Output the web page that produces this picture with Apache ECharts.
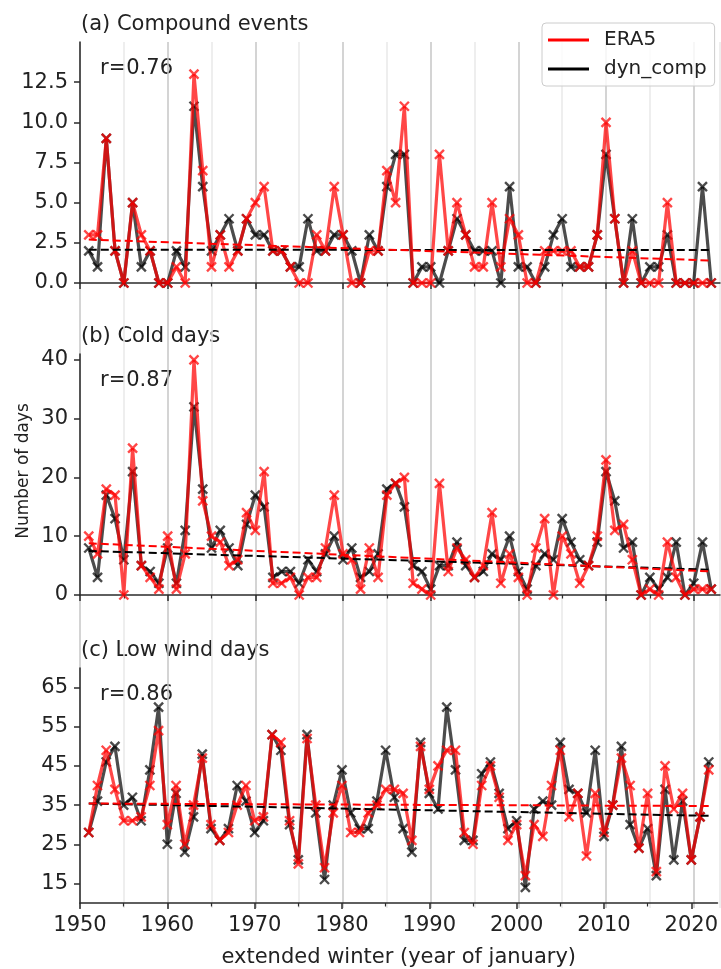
<!DOCTYPE html>
<html>
<head>
<meta charset="utf-8">
<script src="https://cdn.jsdelivr.net/npm/echarts@6/dist/echarts.min.js"></script>
<style>
  html, body { margin: 0; padding: 0; background: #ffffff; }
  #chart { width: 721px; height: 969px; }
</style>
</head>
<body>
<div id="chart"></div>
<script>
// Extended winters, labelled by the year of January
const firstYear = 1951;
const lastYear = 2022;
const years = [];
for (let y = firstYear; y <= lastYear; y++) years.push(y);

// (a) Compound events per winter
const compoundEra5 = [3,3,9,2,0,5,3,2,0,0, 1,0,13,7,1,3,1,2,4,5, 6,2,2,1,0,0,3,2,6,3, 0,0,2,2,7,5,11,0,0,0, 8,2,5,3,1,1,5,1,4,3, 0,0,2,2,2,2,1,1,3,10, 4,0,2,0,0,0,5,0,0,0, 0,0];
const compoundDyn  = [2,1,9,2,0,5,1,2,0,0, 2,1,11,6,2,3,4,2,4,3, 3,2,2,1,1,4,2,2,3,3, 2,0,3,2,6,8,8,0,1,1, 0,2,4,3,2,2,2,0,6,1, 1,0,1,3,4,1,1,1,3,8, 4,0,4,0,1,1,3,0,0,0, 6,0];
// Linear trend lines (value at first and last winter)
const compoundTrendEra5 = [2.7, 1.4];
const compoundTrendDyn  = [2.07, 2.05];

// (b) Cold days per winter
const coldEra5 = [10,7,18,17,0,25,5,3,1,10, 1,7,40,16,10,9,5,6,14,11, 21,2,2,3,0,3,3,8,17,7, 6,1,8,3,17,19,20,2,1,0, 19,4,8,6,3,5,14,2,7,3, 0,8,13,0,10,7,2,5,10,23, 11,12,6,0,1,0,9,3,0,1, 1,1];
const coldDyn  = [8,3,17,13,6,21,5,4,2,8, 2,11,32,18,8,11,8,5,12,17, 15,3,4,4,2,6,4,7,10,6, 8,3,4,7,18,19,15,5,4,1, 5,5,9,5,3,4,7,6,10,4, 1,5,7,6,13,9,6,5,9,21, 16,8,9,0,3,1,3,9,0,2, 9,1];
const coldTrendEra5 = [8.8, 4.0];
const coldTrendDyn  = [7.5, 4.3];

// (c) Low wind days per winter
const windEra5 = [28,40,49,39,31,31,32,40,54,30, 40,25,35,47,30,26,28,35,40,31, 32,53,51,31,20,52,35,19,33,40, 28,28,33,35,39,39,38,26,50,39, 45,49,49,28,25,40,45,37,26,30, 17,30,27,40,49,32,38,22,38,28, 35,47,40,24,38,18,45,34,38,21, 32,44];
const windDyn  = [28,36,46,50,35,37,31,44,60,25, 38,23,32,48,29,26,29,40,36,28, 31,53,49,30,21,53,33,16,35,44, 33,29,29,36,49,37,29,23,51,38, 34,60,44,26,26,43,46,38,29,31, 14,34,36,35,51,39,38,33,49,27, 35,50,30,24,29,17,39,21,36,21, 32,46];
const windTrendEra5 = [35.4, 34.75];
const windTrendDyn  = [35.4, 32.25];

// Panel texts and axis ticks
const panelTitles = ['(a) Compound events', '(b) Cold days', '(c) Low wind days'];
const correlations = ['r=0.76', 'r=0.87', 'r=0.86'];
const ticksA = [0, 2.5, 5, 7.5, 10, 12.5];
const ticksB = [0, 10, 20, 30, 40];
const ticksC = [15, 25, 35, 45, 55, 65];
const xTicks = [1950, 1960, 1970, 1980, 1990, 2000, 2010, 2020];

const FONT = 'DejaVu Sans';
const TEXT = '#222222';
const AXIS = '#2b2b2b';
const RED_LINE = 'rgba(255,0,0,0.72)';
const BLACK_LINE = 'rgba(0,0,0,0.7)';

const panels = [
  { era5: compoundEra5, dyn: compoundDyn, tEra5: compoundTrendEra5, tDyn: compoundTrendDyn,
    min: 0,  max: 15, ticks: ticksA, fmt: v => v.toFixed(1), top: 42,  height: 241 },
  { era5: coldEra5, dyn: coldDyn, tEra5: coldTrendEra5, tDyn: coldTrendDyn,
    min: 0,  max: 41, ticks: ticksB, fmt: v => String(v), top: 354, height: 241 },
  { era5: windEra5, dyn: windDyn, tEra5: windTrendEra5, tDyn: windTrendDyn,
    min: 10, max: 70, ticks: ticksC, fmt: v => String(v), top: 668, height: 240 }
];

const pairs = vals => vals.map((v, i) => [years[i], v]);
const trendLine = ends => [[firstYear, ends[0]], [lastYear, ends[1]]];
const xMark = 'path://M0,0L10,10M10,0L0,10';

const grids = [], xAxes = [], yAxes = [], series = [], graphics = [];

panels.forEach((p, k) => {
  grids.push({ left: 80, right: 1, top: p.top, height: p.height, containLabel: false });
  const bottomPanel = k === panels.length - 1;
  xAxes.push({
    type: 'value', gridIndex: k, min: 1950, max: 2023, interval: 10,
    axisLine: { show: true, onZero: false, lineStyle: { color: AXIS, width: 1.5 } },
    axisTick: { show: true, length: 6, customValues: xTicks, lineStyle: { color: AXIS, width: 1.5 } },
    minorTick: { show: true, splitNumber: 2, length: 3.5, lineStyle: { color: AXIS, width: 1.2 } },
    axisLabel: {
      show: bottomPanel, customValues: xTicks, margin: 12, formatter: v => String(v),
      fontSize: 21, fontFamily: FONT, color: TEXT
    },
    splitLine: { show: false },
    name: bottomPanel ? 'extended winter (year of january)' : '',
    nameLocation: 'middle', nameGap: 44,
    nameTextStyle: { fontSize: 21, fontFamily: FONT, color: TEXT }
  });
  yAxes.push({
    type: 'value', gridIndex: k, min: p.min, max: p.max,
    axisLine: { show: true, onZero: false, lineStyle: { color: AXIS, width: 1.5 } },
    axisTick: { show: true, length: 6, customValues: p.ticks, lineStyle: { color: AXIS, width: 1.5 } },
    axisLabel: {
      customValues: p.ticks, margin: 12, formatter: p.fmt,
      fontSize: 21, fontFamily: FONT, color: TEXT
    },
    splitLine: { show: false }
  });

  const common = {
    type: 'line', xAxisIndex: k, yAxisIndex: k,
    symbol: xMark, symbolSize: 9, showSymbol: true,
    emphasis: { disabled: true }, silent: true
  };
  series.push(Object.assign({}, common, {
    name: 'dyn_comp', data: pairs(p.dyn), z: 3,
    lineStyle: { color: BLACK_LINE, width: 3.2 },
    itemStyle: { color: 'none', borderColor: BLACK_LINE, borderWidth: 2.4 }
  }));
  series.push(Object.assign({}, common, {
    name: 'ERA5', data: pairs(p.era5), z: 4,
    lineStyle: { color: RED_LINE, width: 3.2 },
    itemStyle: { color: 'none', borderColor: RED_LINE, borderWidth: 2.4 }
  }));
  series.push({
    type: 'line', name: 'dyn_comp trend', xAxisIndex: k, yAxisIndex: k,
    data: trendLine(p.tDyn), showSymbol: false, symbol: 'none', z: 5, silent: true,
    lineStyle: { color: '#000000', width: 2, type: [8, 4] }
  });
  series.push({
    type: 'line', name: 'ERA5 trend', xAxisIndex: k, yAxisIndex: k,
    data: trendLine(p.tEra5), showSymbol: false, symbol: 'none', z: 6, silent: true,
    lineStyle: { color: '#ff0000', width: 2, type: [8, 4] }
  });

  graphics.push({
    type: 'text', x: 81, y: p.top - 17,
    style: { text: panelTitles[k], fontSize: 21, fontFamily: FONT, fill: TEXT, align: 'left', verticalAlign: 'middle' }
  });
  graphics.push({
    type: 'text', x: 100, y: p.top + 27,
    style: { text: correlations[k], fontSize: 21, fontFamily: FONT, fill: TEXT, align: 'left', verticalAlign: 'middle' }
  });
});

// Shared vertical grid running through all three panels
grids.push({ left: 80, right: 1, top: 42, bottom: 61 });
xAxes.push({
  type: 'value', gridIndex: 3, min: 1950, max: 2023, interval: 5,
  axisLine: { show: false }, axisTick: { show: false }, axisLabel: { show: false },
  splitLine: { show: true, lineStyle: { color: ['#c6c6c6', '#e8e8e8'], width: 1.5 } }
});
yAxes.push({
  type: 'value', gridIndex: 3, min: 0, max: 1, show: false, splitLine: { show: false }
});
series.push({ type: 'line', xAxisIndex: 3, yAxisIndex: 3, data: [], silent: true });

graphics.push({
  type: 'text', x: 24, y: 471, rotation: Math.PI / 2,
  style: { text: 'Number of days', fontSize: 17, fontFamily: FONT, fill: TEXT, align: 'center', verticalAlign: 'middle' }
});

const chart = echarts.init(document.getElementById('chart'), null, { renderer: 'canvas' });
chart.setOption({
  animation: false,
  backgroundColor: '#ffffff',
  grid: grids,
  xAxis: xAxes,
  yAxis: yAxes,
  series: series,
  graphic: graphics,
  legend: {
    orient: 'vertical', left: 542, top: 23,
    padding: [7, 8, 7, 6], itemGap: 9, itemWidth: 41, itemHeight: 3,
    icon: 'rect', selectedMode: false,
    backgroundColor: 'rgba(255,255,255,0.8)', borderColor: '#cccccc', borderWidth: 1, borderRadius: 4,
    textStyle: { fontSize: 20, fontFamily: FONT, color: TEXT, lineHeight: 20, padding: [0, 0, 0, 10] },
    data: [
      { name: 'ERA5', itemStyle: { color: '#ff0000', borderWidth: 0 } },
      { name: 'dyn_comp', itemStyle: { color: '#000000', borderWidth: 0 } }
    ]
  }
});
</script>
</body>
</html>
